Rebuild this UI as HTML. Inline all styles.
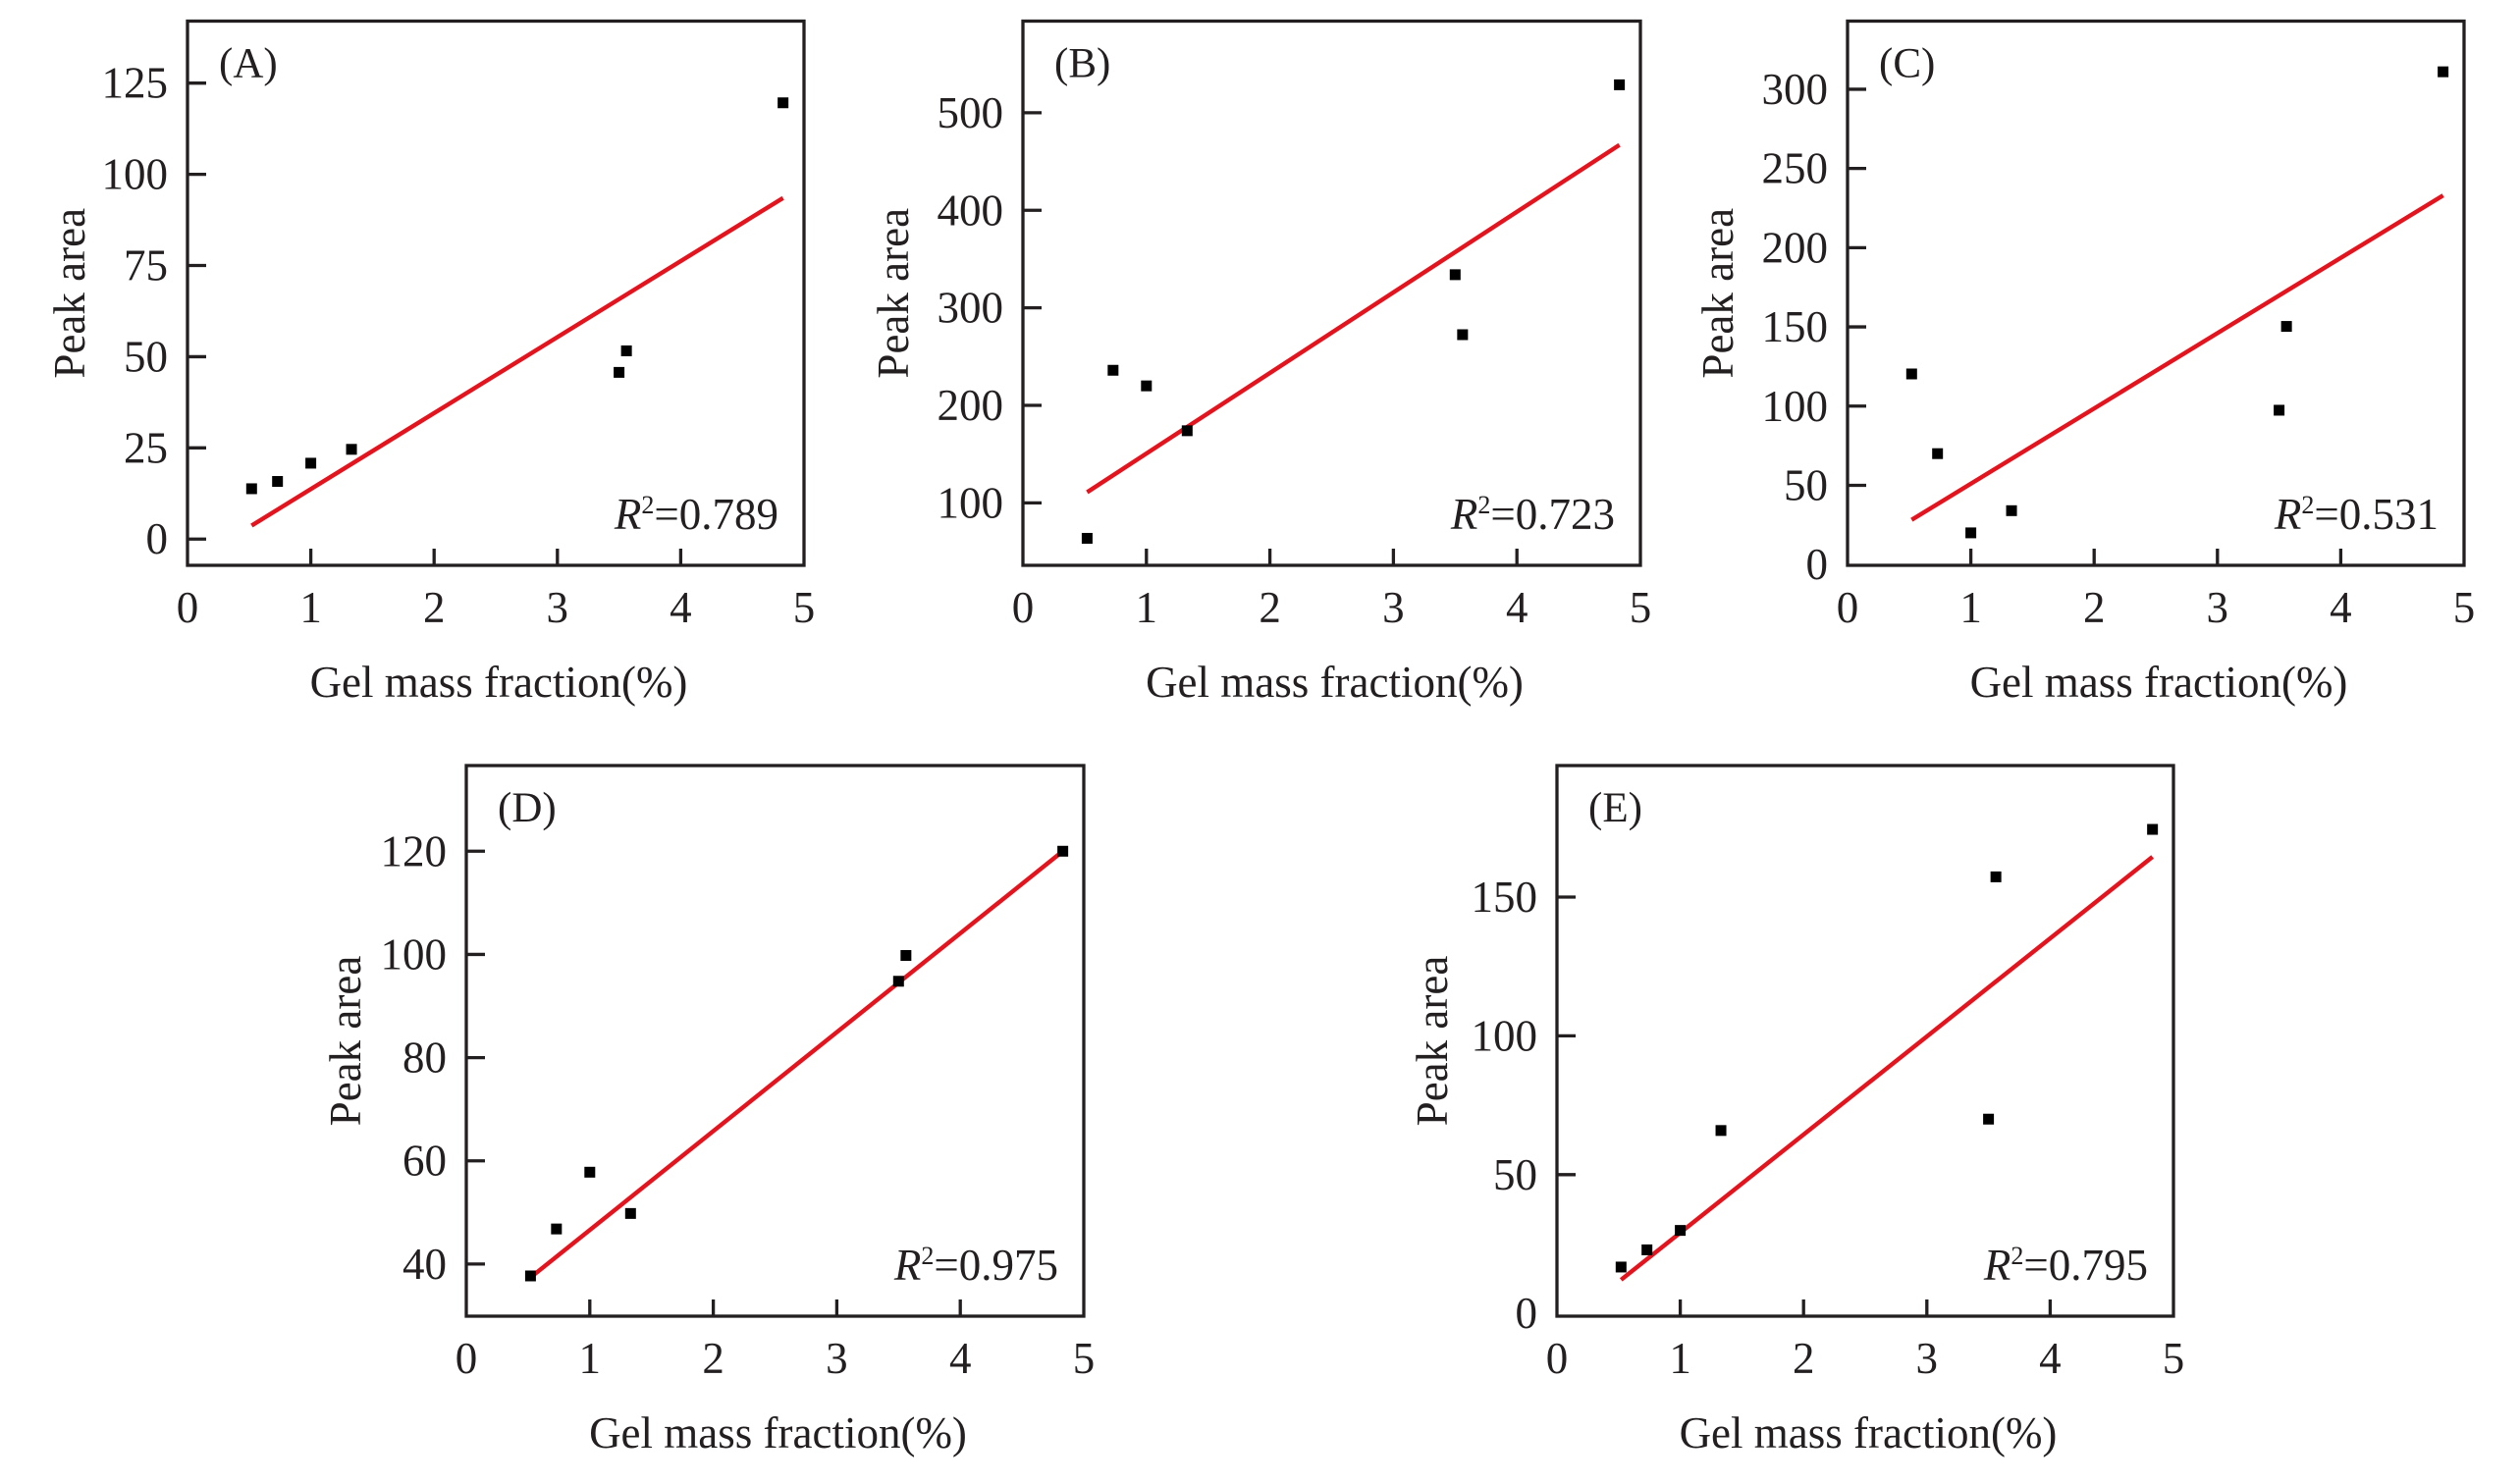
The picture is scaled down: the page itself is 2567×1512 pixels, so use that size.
<!DOCTYPE html>
<html><head><meta charset="utf-8">
<style>
html,body{margin:0;padding:0;background:#fff;overflow:hidden;}
svg{display:block;}
text{font-family:"Liberation Serif","Times New Roman",serif;fill:#231f20;}
</style></head>
<body>
<svg id="fig" width="2567" height="1512" viewBox="0 0 2567 1512" xmlns="http://www.w3.org/2000/svg"></svg>
<script>
const xValues = [0.52, 0.73, 1.0, 1.33, 3.5, 3.56, 4.83];
const seriesA = [13.8, 15.8, 20.8, 24.6, 45.7, 51.6, 119.6];
const seriesB = [63.7, 236, 220, 174, 334, 272.5, 528.7];
const seriesC = [120.3, 70, 20, 34, 97.4, 150.3, 311];
const seriesD = [37.7, 46.8, 57.8, 49.8, 94.8, 99.8, 120];
const seriesE = [16.7, 22.9, 29.9, 65.9, 70, 157.3, 174.4];
const fitX = [0.52, 4.83];
const fitStartY = [3.7, 111, 28.2, 37.4, 12.1];
const fitEndY = [93.5, 467, 233, 120, 164.5];
const xTicks = [0, 1, 2, 3, 4, 5];
const yTicksA = [0, 25, 50, 75, 100, 125];
const yTicksB = [100, 200, 300, 400, 500];
const yTicksC = [0, 50, 100, 150, 200, 250, 300];
const yTicksD = [40, 60, 80, 100, 120];
const yTicksE = [0, 50, 100, 150];
const panelLabels = ["(A)", "(B)", "(C)", "(D)", "(E)"];
const r2Labels = ["0.789", "0.723", "0.531", "0.975", "0.795"];

const panels = [
  {id:"a", L:191, R:819, T:21.5, B:576, ymin:-7.2, ymax:142, ys:seriesA, yt:yTicksA, tOff:120},
  {id:"b", L:1042, R:1671, T:21.5, B:576, ymin:36, ymax:594, ys:seriesB, yt:yTicksB, tOff:132},
  {id:"c", L:1882, R:2510, T:21.5, B:576, ymin:-0.5, ymax:343, ys:seriesC, yt:yTicksC, tOff:132},
  {id:"d", L:475, R:1104, T:780, B:1341, ymin:29.9, ymax:136.6, ys:seriesD, yt:yTicksD, tOff:123},
  {id:"e", L:1586, R:2214, T:780, B:1341, ymin:-1, ymax:197.4, ys:seriesE, yt:yTicksE, tOff:127}
];
const NS = "http://www.w3.org/2000/svg";
const svg = document.getElementById("fig");
function mk(tag, attrs, parent){
  const e = document.createElementNS(NS, tag);
  for (const k in attrs) e.setAttribute(k, attrs[k]);
  parent.appendChild(e);
  return e;
}
panels.forEach((p, i) => {
  const g = mk("g", {}, svg);
  
  
  const sx = v => p.L + (v - 0) / 5 * (p.R - p.L);
  const sy = v => p.B - (v - p.ymin) / (p.ymax - p.ymin) * (p.B - p.T);
  const fr = mk("rect", {x:p.L, y:p.T, width:p.R-p.L, height:p.B-p.T, fill:"none", stroke:"#231f20", "stroke-width":3.3}, g);
  
  
  xTicks.forEach(t => {
    const x = sx(t);
    if (t > 0 && t < 5) {
      const tk = mk("line", {x1:x, x2:x, y1:p.B, y2:p.B-17, stroke:"#231f20", "stroke-width":3.3}, g);
      
      
    }
    const lb = mk("text", {x:x, y:p.B+58, "font-size":45, "text-anchor":"middle"}, g);
    lb.textContent = t;
    
    
  });
  p.yt.forEach(t => {
    const y = sy(t);
    if (y < p.B - 3) {
      const tk = mk("line", {x1:p.L, x2:p.L+19, y1:y, y2:y, stroke:"#231f20", "stroke-width":3.3}, g);
      
      
    }
    const lb = mk("text", {x:p.L-20, y:y+15, "font-size":45, "text-anchor":"end"}, g);
    lb.textContent = t;
    
    
  });
  const xt = mk("text", {x:(p.L+p.R)/2+3, y:p.B+134, "font-size":45, "text-anchor":"middle"}, g);
  xt.textContent = "Gel mass fraction(%)";
  
  
  const cx = p.L - p.tOff, cy = (p.T+p.B)/2;
  const yt = mk("text", {x:cx, y:cy, "font-size":45, "text-anchor":"middle", transform:"rotate(-90 "+cx+" "+cy+") translate(0 15)"}, g);
  yt.textContent = "Peak area";
  
  
  const pl = mk("text", {x:p.L+32, y:p.T+57, "font-size":43}, g);
  pl.textContent = panelLabels[i];
  
  
  const fl = mk("line", {x1:sx(fitX[0]), y1:sy(fitStartY[i]), x2:sx(fitX[1]), y2:sy(fitEndY[i]), stroke:"#e3141d", "stroke-width":4.4}, g);
  
  
  for (let k=0;k<xValues.length;k++){
    const pt = mk("rect", {x:sx(xValues[k])-5.5, y:sy(p.ys[k])-5.5, width:11, height:11, fill:"#000"}, g);
    
    
  }
  const rt = mk("text", {x:p.R-26, y:p.B-37, "font-size":45, "text-anchor":"end"}, g);
  
  
  const t1 = mk("tspan", {"font-style":"italic"}, rt); t1.textContent = "R";
  const t2 = mk("tspan", {"font-size":26, dy:-16}, rt); t2.textContent = "2";
  const t3 = mk("tspan", {dy:16}, rt); t3.textContent = "=" + r2Labels[i];
});
</script>
</body></html>
